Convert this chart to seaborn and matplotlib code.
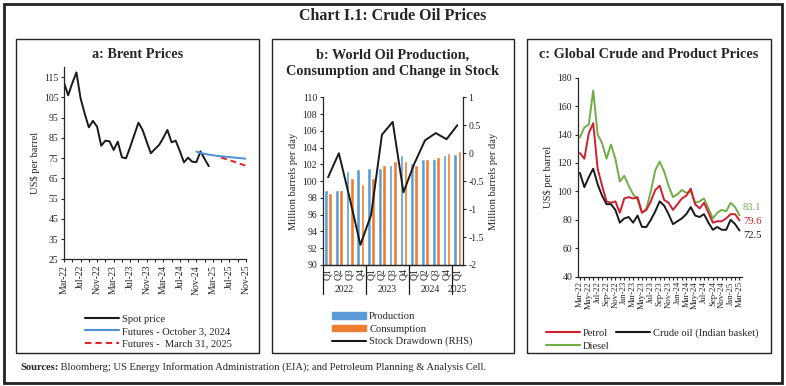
import numpy as np
import pandas as pd
import matplotlib
matplotlib.use("Agg")
import matplotlib.pyplot as plt
from matplotlib.patches import Rectangle, Patch
from matplotlib.lines import Line2D
import seaborn as sns

# ---- data ----
# a: Brent (monthly, Mar-22 onwards)
months_a = pd.date_range("2022-03-01", periods=45, freq="MS").strftime("%b-%y").tolist()
spot_price = [112.3, 106.0, 112.0, 117.3, 104.6, 97.0, 90.2, 93.4, 90.5, 81.1,
              83.6, 83.3, 79.0, 83.1, 75.4, 74.9, 80.5, 86.5, 92.5, 88.9,
              83.0, 77.4, 79.5, 81.5, 85.0, 88.9, 82.8, 83.6, 78.5, 72.9,
              75.2, 73.2, 73.0, 78.3, 74.6, 71.0]
futures_oct24 = [78.2, 77.6, 77.1, 76.7, 76.4, 76.1, 75.9, 75.7, 75.5, 75.3, 75.1, 74.9, 74.7]
futures_mar25 = [75.2, 74.6, 74.0, 73.3, 72.6, 71.9, 71.2]

# b: world oil production / consumption (quarterly)
quarters = ["Q1", "Q2", "Q3", "Q4", "Q1", "Q2", "Q3", "Q4", "Q1", "Q2", "Q3", "Q4", "Q1"]
years = ["2022", "2023", "2024", "2025"]
production = [99.0, 99.0, 101.2, 101.4, 101.6, 101.6, 101.9, 103.1, 102.2, 102.6, 102.6, 103.1, 103.2]
consumption = [98.6, 99.0, 100.4, 99.7, 100.4, 101.9, 102.4, 102.4, 101.9, 102.7, 102.9, 103.4, 103.6]
stock_draw = [-0.43, 0.0, -0.80, -1.64, -1.10, 0.33, 0.56, -0.70, -0.19, 0.23, 0.36, 0.25, 0.50]

# c: global crude and product prices (monthly Mar-22 to Mar-25)
months_c = pd.date_range("2022-03-01", periods=37, freq="MS").strftime("%b-%y").tolist()
petrol = [127, 123, 141, 148, 116, 104, 93, 92, 93, 85,
          95, 96, 95, 96, 85, 87, 93, 101, 104, 94,
          92, 87, 91, 95, 97, 102, 91, 88, 92, 85,
          78, 79, 79, 81, 84, 84, 79.6]
diesel = [138, 145, 147, 171, 140, 134, 123, 133, 123, 107,
          111, 104, 98, 94, 85, 88, 100, 115, 121, 114,
          104, 96, 98, 101, 99, 100, 92, 93, 95, 88,
          81, 85, 87, 86, 92, 89, 83.1]
crude = [113, 103, 110, 116, 105, 97, 91, 91, 87, 78,
         81, 82, 78, 83, 75, 75, 80, 86, 93, 90,
         84, 77, 79, 81, 84, 89, 83, 82, 84, 78,
         73, 75, 73, 73, 80, 77, 72.5]

# ---- style ----
sns.set_style("ticks")
plt.rcParams["font.family"] = ["Liberation Serif", "DejaVu Serif"]
plt.rcParams["axes.linewidth"] = 0.9
plt.rcParams["xtick.major.width"] = 0.8
plt.rcParams["ytick.major.width"] = 0.8
plt.rcParams["xtick.major.size"] = 2.5
plt.rcParams["ytick.major.size"] = 2.5

W, H = 786, 386
fig = plt.figure(figsize=(W / 100, H / 100), dpi=100)


def rect(l, t, r, b):
    return [l / W, 1 - b / H, (r - l) / W, (b - t) / H]


def ftext(x, y, s, **kw):
    return fig.text(x / W, 1 - y / H, s, **kw)


def box(l, t, r, b, lw=1.0):
    fig.add_artist(Rectangle((l / W, 1 - b / H), (r - l) / W, (b - t) / H,
                             transform=fig.transFigure, fill=False, lw=lw, ec="#222222"))


box(4, 4, 782, 383, lw=2.0)
box(16, 39, 259, 353)
box(272, 39, 514, 353)
box(527, 39, 771, 353)

ftext(393, 16, "Chart I.1: Crude Oil Prices", ha="center", va="center",
      fontsize=11.5, fontweight="bold")

tick_fs = 7
lab_fs = 7.6
title_fs = 10.3

# ---- panel a ----
ax_a = fig.add_axes(rect(64, 67, 246, 259.3))
x_spot = np.arange(len(spot_price))
x_f1 = np.arange(32, 32 + len(futures_oct24))
x_f2 = np.arange(38, 38 + len(futures_mar25))
sns.lineplot(x=x_spot, y=spot_price, ax=ax_a, color="#1a1a1a", lw=1.4)
sns.lineplot(x=x_f1, y=futures_oct24, ax=ax_a, color="#4a8fd8", lw=1.4)
sns.lineplot(x=x_f2, y=futures_mar25, ax=ax_a, color="#e8202a", lw=1.4, linestyle=(0, (3, 2)))
ax_a.set_xlim(0, 44)
ax_a.set_ylim(25, 120)
ax_a.set_yticks(np.arange(25, 116, 10))
ax_a.set_xticks(np.arange(0, 45, 2))
ax_a.set_xticklabels([months_a[i] if i % 4 == 0 else "" for i in range(0, 45, 2)],
                     rotation=90, fontsize=tick_fs)
ax_a.tick_params(axis="y", labelsize=tick_fs, pad=1.5)
ax_a.tick_params(axis="x", pad=1.5)
ax_a.set_ylabel("US$ per barrel", fontsize=lab_fs, labelpad=3)
sns.despine(ax=ax_a)
ftext(138, 54, "a: Brent Prices", ha="center", va="center", fontsize=title_fs, fontweight="bold")
ax_a.legend(handles=[Line2D([], [], color="#1a1a1a", lw=1.5),
                     Line2D([], [], color="#4a8fd8", lw=1.5),
                     Line2D([], [], color="#e8202a", lw=1.5, linestyle=(0, (3, 2)))],
            labels=["Spot price", "Futures - October 3, 2024", "Futures -  March 31, 2025"],
            loc="upper left", bbox_to_anchor=(80 / W, 1 - 309 / H),
            bbox_transform=fig.transFigure, frameon=False, fontsize=lab_fs,
            handlelength=3.2, handletextpad=0.3, labelspacing=0.28, borderpad=0)

# ---- panel b ----
ax_b = fig.add_axes(rect(322.7, 97.3, 462.7, 265))
df_b = pd.DataFrame({
    "q": list(range(len(quarters))) * 2,
    "val": production + consumption,
    "series": ["Production"] * len(production) + ["Consumption"] * len(consumption),
})
sns.barplot(data=df_b, x="q", y="val", hue="series", palette=["#5b9bd5", "#ed7d31"],
            width=0.78, gap=0.12, ax=ax_b, legend=False, saturation=1)
ax_b.set_ylim(90, 110)
ax_b.set_yticks(np.arange(90, 111, 2))
ax_b.set_xlim(-0.5, len(quarters) - 0.5)
ax_b.set_xticks(range(len(quarters)))
ax_b.set_xticklabels(quarters, rotation=90, fontsize=tick_fs)
ax_b.tick_params(axis="y", labelsize=tick_fs, pad=1.5)
ax_b.tick_params(axis="x", length=0, pad=2)
ax_b.set_xlabel("")
ax_b.set_ylabel("Million barrels per day", fontsize=lab_fs, labelpad=3)
ax_b2 = ax_b.twinx()
sns.lineplot(x=np.arange(len(stock_draw)), y=stock_draw, ax=ax_b2, color="#1a1a1a", lw=1.4)
ax_b2.set_ylim(-2, 1)
ax_b2.set_yticks([-2, -1.5, -1, -0.5, 0, 0.5, 1])
ax_b2.set_yticklabels(["-2", "-1.5", "-1", "-0.5", "0", "0.5", "1"])
ax_b2.tick_params(axis="y", labelsize=tick_fs, pad=1.5)
ax_b2.set_ylabel("Million barrels per day", fontsize=lab_fs, labelpad=4)
ax_b2.set_xlim(-0.5, len(quarters) - 0.5)
for sp in ["top"]:
    ax_b.spines[sp].set_visible(False)
    ax_b2.spines[sp].set_visible(False)
ax_b2.spines["left"].set_visible(False)
ax_b.spines["right"].set_visible(False)
trans = ax_b.get_xaxis_transform()
for xs in [-0.5, 3.5, 7.5, 11.5]:
    ax_b.plot([xs, xs], [0, -0.17], color="#1a1a1a", lw=0.9, transform=trans, clip_on=False)
for xc, yr in zip([1.5, 5.5, 9.5, 12.0], years):
    ax_b.text(xc, -0.145, yr, transform=trans, ha="center", va="center", fontsize=tick_fs)
ftext(393, 55, "b: World Oil Production,", ha="center", va="center", fontsize=title_fs, fontweight="bold")
ftext(393, 72, "Consumption and Change in Stock", ha="center", va="center", fontsize=title_fs, fontweight="bold")
ax_b.legend(handles=[Patch(color="#5b9bd5"), Patch(color="#ed7d31"),
                     Line2D([], [], color="#1a1a1a", lw=1.5)],
            labels=["Production", "Consumption", "Stock Drawdown (RHS)"],
            loc="upper left", bbox_to_anchor=(327 / W, 1 - 307 / H),
            bbox_transform=fig.transFigure, frameon=False, fontsize=lab_fs,
            handlelength=3.2, handleheight=0.6, handletextpad=0.3, labelspacing=0.3, borderpad=0)

# ---- panel c ----
ax_c = fig.add_axes(rect(577.7, 77.7, 741.7, 276.7))
xc = np.arange(len(months_c))
sns.lineplot(x=xc, y=diesel, ax=ax_c, color="#70ad47", lw=1.4)
sns.lineplot(x=xc, y=petrol, ax=ax_c, color="#d0202e", lw=1.4)
sns.lineplot(x=xc, y=crude, ax=ax_c, color="#1a1a1a", lw=1.4)
ax_c.set_xlim(-0.5, len(months_c) - 0.5)
ax_c.set_ylim(40, 180)
ax_c.set_yticks(np.arange(40, 181, 20))
ax_c.set_xticks(xc)
ax_c.set_xticklabels([m if i % 2 == 0 else "" for i, m in enumerate(months_c)],
                     rotation=90, fontsize=6.3)
ax_c.tick_params(axis="y", labelsize=tick_fs, pad=1.5)
ax_c.tick_params(axis="x", pad=1.2, length=2)
ax_c.set_ylabel("US$ per barrel", fontsize=lab_fs, labelpad=3)
sns.despine(ax=ax_c)
ax_c.annotate(f"{diesel[-1]}", (xc[-1], diesel[-1]), xytext=(2.5, 6), textcoords="offset points",
              color="#70ad47", fontsize=lab_fs, va="center", ha="left")
ax_c.annotate(f"{petrol[-1]}", (xc[-1], petrol[-1]), xytext=(2.5, -1), textcoords="offset points",
              color="#d0202e", fontsize=lab_fs, va="center", ha="left")
ax_c.annotate(f"{crude[-1]}", (xc[-1], crude[-1]), xytext=(2.5, -3.5), textcoords="offset points",
              color="#1a1a1a", fontsize=lab_fs, va="center", ha="left")
ftext(649, 55, "c: Global Crude and Product Prices", ha="center", va="center",
      fontsize=title_fs, fontweight="bold")
ax_c.legend(handles=[Line2D([], [], color="#d0202e", lw=1.5),
                     Line2D([], [], color="#70ad47", lw=1.5),
                     Line2D([], [], color="#1a1a1a", lw=1.5)],
            labels=["Petrol", "Diesel", "Crude oil (Indian basket)"], ncol=2,
            loc="upper left", bbox_to_anchor=(541 / W, 1 - 323 / H),
            bbox_transform=fig.transFigure, frameon=False, fontsize=lab_fs,
            handlelength=3.2, handletextpad=0.3, labelspacing=0.35, columnspacing=0.6, borderpad=0)

# ---- sources ----
t1 = ftext(20, 367, "Sources:", ha="left", va="center", fontsize=7.6, fontweight="bold")
ax_a.annotate(" Bloomberg; US Energy Information Administration (EIA); and Petroleum Planning & Analysis Cell.",
              xy=(1, 0.5), xycoords=t1, ha="left", va="center", fontsize=7.6, annotation_clip=False)

fig.savefig("out.png", dpi=100)
